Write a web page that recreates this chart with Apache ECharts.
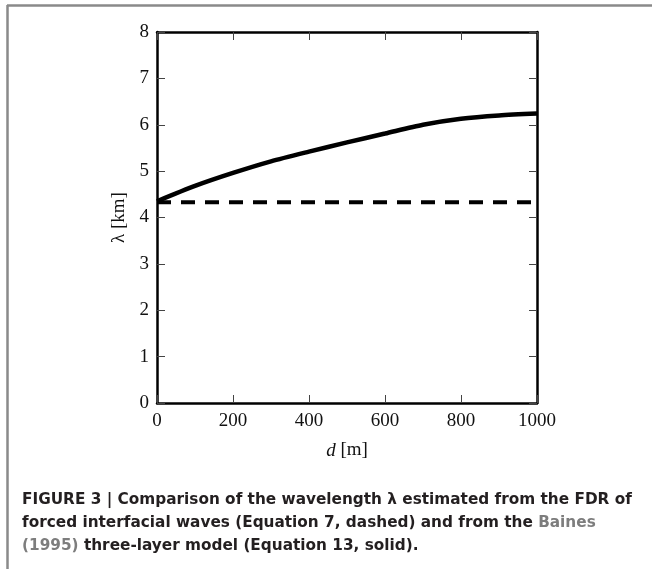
<!DOCTYPE html>
<html>
<head>
<meta charset="utf-8">
<script src="https://cdn.jsdelivr.net/npm/echarts@6/dist/echarts.min.js"></script>
<style>
  html, body { margin: 0; padding: 0; background: #fff; }
  #chart { width: 652px; height: 569px; }
</style>
</head>
<body>
<div id="chart"></div>
<script>
// distance d [m] for the three-layer model curve
const distances = [0, 100, 200, 300, 400, 500, 600, 700, 800, 900, 1000]
// wavelength from the Baines (1995) three-layer model (solid)
const lambdaThreeLayer = [4.35, 4.68, 4.96, 5.21, 5.42, 5.62, 5.81, 6.00, 6.13, 6.20, 6.24]
// wavelength from the FDR of forced interfacial waves (dashed)
const distancesFdr = [0, 1000]
const lambdaFdr = [4.33, 4.33]

const xTicks = [0, 200, 400, 600, 800, 1000]
const yTicks = [0, 1, 2, 3, 4, 5, 6, 7, 8]

const captionLines = [
  [{ t: 'FIGURE 3 | Comparison of the wavelength λ estimated from the FDR of', s: 'b' }],
  [{ t: 'forced interfacial waves (Equation 7, dashed) and from the ', s: 'b' }, { t: 'Baines', s: 'g' }],
  [{ t: '(1995)', s: 'g' }, { t: ' three-layer model (Equation 13, solid).', s: 'b' }]
]

const chart = echarts.init(document.getElementById('chart'))

const serif = 'Liberation Serif, Times New Roman, serif'
const capFont = 'DejaVu Sans, Arial, sans-serif'

const axisLineStyle = { show: true, onZero: false, lineStyle: { color: '#000', width: 2.5 } }
const tickStyle = { show: true, inside: true, length: 8, lineStyle: { color: '#444', width: 1 } }

const baseX = {
  type: 'value', min: 0, max: 1000, interval: 200,
  axisLine: axisLineStyle, splitLine: { show: false },
  axisTick: tickStyle
}
const baseY = {
  type: 'value', min: 0, max: 8, interval: 1,
  axisLine: axisLineStyle, splitLine: { show: false },
  axisTick: tickStyle
}

const option = {
  animation: false,
  grid: { left: 157, right: 115, top: 32, bottom: 166 },
  xAxis: [
    Object.assign({}, baseX, {
      position: 'bottom',
      axisLabel: { color: '#111', fontFamily: serif, fontSize: 19, margin: 9,
        formatter: v => xTicks.includes(v) ? String(v) : '' },
      name: '{i|d} [m]', nameLocation: 'middle', nameGap: 38,
      nameTextStyle: {
        color: '#111', fontFamily: serif, fontSize: 19,
        rich: { i: { fontStyle: 'italic', fontFamily: serif, fontSize: 19, color: '#111' } }
      }
    }),
    Object.assign({}, baseX, { position: 'top', axisLabel: { show: false } })
  ],
  yAxis: [
    Object.assign({}, baseY, {
      position: 'left',
      axisLabel: { color: '#111', fontFamily: serif, fontSize: 19, margin: 8,
        formatter: v => yTicks.includes(v) ? String(v) : '' },
      name: 'λ [km]', nameLocation: 'middle', nameGap: 25,
      nameTextStyle: { color: '#111', fontFamily: serif, fontSize: 19 }
    }),
    Object.assign({}, baseY, { position: 'right', axisLabel: { show: false } })
  ],
  series: [
    {
      type: 'line', name: 'three-layer',
      data: distances.map((d, i) => [d, lambdaThreeLayer[i]]),
      smooth: 0.25, showSymbol: false, clip: false,
      lineStyle: { color: '#000', width: 4.5 }, z: 3
    },
    {
      type: 'line', name: 'FDR',
      data: distancesFdr.map((d, i) => [d, lambdaFdr[i]]),
      showSymbol: false, clip: false,
      lineStyle: { color: '#000', width: 4, type: [14, 10] }, z: 3
    }
  ],
  graphic: [
    { type: 'line', shape: { x1: 7, y1: 5.5, x2: 652, y2: 5.5 }, style: { stroke: '#8a8a8a', lineWidth: 2.5 } },
    { type: 'line', shape: { x1: 7.5, y1: 5, x2: 7.5, y2: 569 }, style: { stroke: '#8a8a8a', lineWidth: 2.5 } }
  ].concat(captionLines.map((parts, i) => ({
    type: 'text', left: 22, top: 493 + i * 23,
    style: {
      text: parts.map(p => '{' + p.s + '|' + p.t + '}').join(''),
      rich: {
        b: { fontFamily: capFont, fontWeight: 'bold', fontSize: 15.3, fill: '#231f20' },
        g: { fontFamily: capFont, fontWeight: 'bold', fontSize: 15.3, fill: '#7d7d7d' }
      }
    }
  })))
}

chart.setOption(option)
</script>
</body>
</html>
